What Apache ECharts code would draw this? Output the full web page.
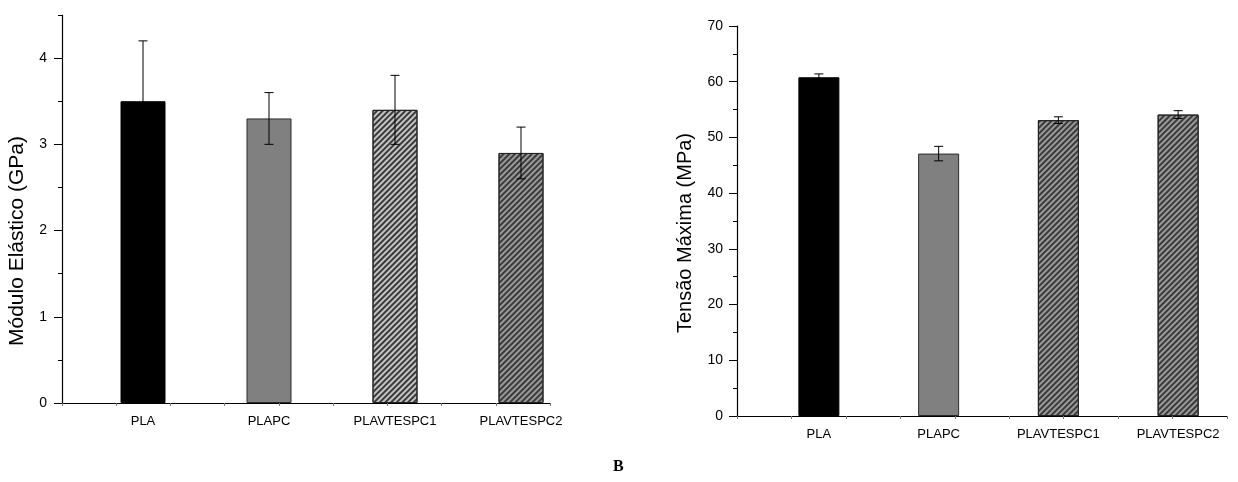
<!DOCTYPE html>
<html>
<head>
<meta charset="utf-8">
<script src="https://cdn.jsdelivr.net/npm/echarts@6/dist/echarts.min.js"></script>
<style>
html,body{margin:0;padding:0;background:#fff;}
#c{width:1238px;height:482px;}
</style>
</head>
<body>
<div id="c"></div>
<script>
// ---- data ----
const categories = ['PLA', 'PLAPC', 'PLAVTESPC1', 'PLAVTESPC2'];
const modulus = [3.5, 3.3, 3.4, 2.9];
const modulusErr = [0.7, 0.3, 0.4, 0.3];
const tension = [60.8, 47.1, 53.1, 54.1];
const tensionErr = [0.6, 1.3, 0.6, 0.7];
const modulusMajorTicks = [0, 1, 2, 3, 4];
const modulusMinorTicks = [0.5, 1.5, 2.5, 3.5, 4.5];
const modulusTitle = 'Módulo Elástico (GPa)';
const tensionTitle = 'Tensão Máxima (MPa)';
const panelLabel = 'B';

// ---- styles ----
const FONT = 'Liberation Sans, Arial, sans-serif';
const solidBlack = { color: '#000', borderColor: '#000', borderWidth: 1 };
const solidGray = { color: '#808080', borderColor: '#2a2a2a', borderWidth: 1 };
const hatchLight = {
  color: '#c4c4c4', borderColor: '#222', borderWidth: 1,
  decal: { symbol: 'rect', symbolSize: 1, dashArrayX: [1, 0], dashArrayY: [1.3, 2.0], rotation: -Math.PI / 4, color: '#3a3a3a' }
};
const hatchDark = {
  color: '#9a9a9a', borderColor: '#222', borderWidth: 1,
  decal: { symbol: 'rect', symbolSize: 1, dashArrayX: [1, 0], dashArrayY: [2.0, 1.3], rotation: -Math.PI / 4, color: '#3a3a3a' }
};
const leftStyles = [solidBlack, solidGray, hatchLight, hatchDark];
const rightStyles = [solidBlack, solidGray, hatchDark, hatchDark];

function barData(vals, styles) {
  return vals.map((v, i) => ({ value: v, itemStyle: styles[i] }));
}
function errData(vals, errs) {
  return vals.map((v, i) => [i, v - errs[i], v + errs[i]]);
}
function errRender(capHalf) {
  return function (params, api) {
    const x = api.value(0);
    const lo = api.coord([x, api.value(1)]);
    const hi = api.coord([x, api.value(2)]);
    const st = { stroke: '#000', lineWidth: 1 };
    return {
      type: 'group',
      children: [
        { type: 'line', shape: { x1: hi[0], y1: lo[1], x2: hi[0], y2: hi[1] }, style: st },
        { type: 'line', shape: { x1: hi[0] - capHalf, y1: hi[1], x2: hi[0] + capHalf, y2: hi[1] }, style: st },
        { type: 'line', shape: { x1: lo[0] - capHalf, y1: lo[1], x2: lo[0] + capHalf, y2: lo[1] }, style: st }
      ]
    };
  };
}

const axisLineStyle = { show: true, lineStyle: { color: '#000', width: 1.2 } };
const labelStyle = { color: '#000', fontFamily: FONT };

const option = {
  animation: false,
  backgroundColor: '#fff',
  grid: [
    { left: 62, right: 688, top: 15, bottom: 79 },
    { left: 80, right: 654, top: 15, bottom: 79 },
    { left: 737, right: 11, top: 26, bottom: 66 },
    { left: 759, right: -19, top: 26, bottom: 66 }
  ],
  xAxis: [
    { gridIndex: 0, type: 'value', min: 0, max: 9, interval: 1, axisLine: axisLineStyle,
      axisTick: { show: true, length: 3, lineStyle: { color: '#777' } }, axisLabel: { show: false }, splitLine: { show: false } },
    { gridIndex: 1, type: 'category', data: categories, axisLine: { show: false }, axisTick: { show: false },
      axisLabel: { ...labelStyle, fontSize: 13, margin: 12 } },
    { gridIndex: 2, type: 'value', min: 0, max: 9, interval: 1, axisLine: axisLineStyle,
      axisTick: { show: true, length: 3, lineStyle: { color: '#777' } }, axisLabel: { show: false }, splitLine: { show: false } },
    { gridIndex: 3, type: 'category', data: categories, axisLine: { show: false }, axisTick: { show: false },
      axisLabel: { ...labelStyle, fontSize: 13, margin: 12 } }
  ],
  yAxis: [
    { gridIndex: 0, type: 'value', min: 0, max: 4.5, position: 'left', axisLine: axisLineStyle,
      axisTick: { show: true, length: 8, customValues: modulusMajorTicks, lineStyle: { color: '#000' } },
      axisLabel: { ...labelStyle, fontSize: 14, margin: 15, customValues: modulusMajorTicks },
      splitLine: { show: false },
      name: modulusTitle, nameLocation: 'middle', nameGap: 34,
      nameTextStyle: { fontFamily: FONT, fontSize: 21, color: '#000', padding: [0, 64, 0, 0] } },
    { gridIndex: 0, type: 'value', min: 0, max: 4.5, position: 'left', offset: 0, axisLine: { show: false },
      axisTick: { show: true, length: 4, customValues: modulusMinorTicks, lineStyle: { color: '#000' } },
      axisLabel: { show: false }, splitLine: { show: false } },
    { gridIndex: 1, type: 'value', min: 0, max: 4.5, show: false },
    { gridIndex: 2, type: 'value', min: 0, max: 70, interval: 10, axisLine: axisLineStyle,
      axisTick: { show: true, length: 8, lineStyle: { color: '#000' } },
      minorTick: { show: true, splitNumber: 2, length: 4, lineStyle: { color: '#000' } },
      axisLabel: { ...labelStyle, fontSize: 14, margin: 14 },
      splitLine: { show: false },
      name: tensionTitle, nameLocation: 'middle', nameGap: 42,
      nameTextStyle: { fontFamily: FONT, fontSize: 20, color: '#000', padding: [0, 24, 0, 0] } },
    { gridIndex: 3, type: 'value', min: 0, max: 70, show: false }
  ],
  series: [
    { type: 'bar', xAxisIndex: 1, yAxisIndex: 2, barWidth: 45, data: barData(modulus, leftStyles), z: 2 },
    { type: 'custom', xAxisIndex: 1, yAxisIndex: 2, renderItem: errRender(4.5), data: errData(modulus, modulusErr), z: 5 },
    { type: 'bar', xAxisIndex: 3, yAxisIndex: 4, barWidth: 41, data: barData(tension, rightStyles), z: 2 },
    { type: 'custom', xAxisIndex: 3, yAxisIndex: 4, renderItem: errRender(4.5), data: errData(tension, tensionErr), z: 5 }
  ],
  graphic: [
    { type: 'text', left: 613, top: 459, style: { text: panelLabel, font: 'bold 16px "Liberation Serif", "Times New Roman", serif', fill: '#000' } }
  ]
};

const chart = echarts.init(document.getElementById('c'), null, { renderer: 'canvas' });
chart.setOption(option);
</script>
</body>
</html>
